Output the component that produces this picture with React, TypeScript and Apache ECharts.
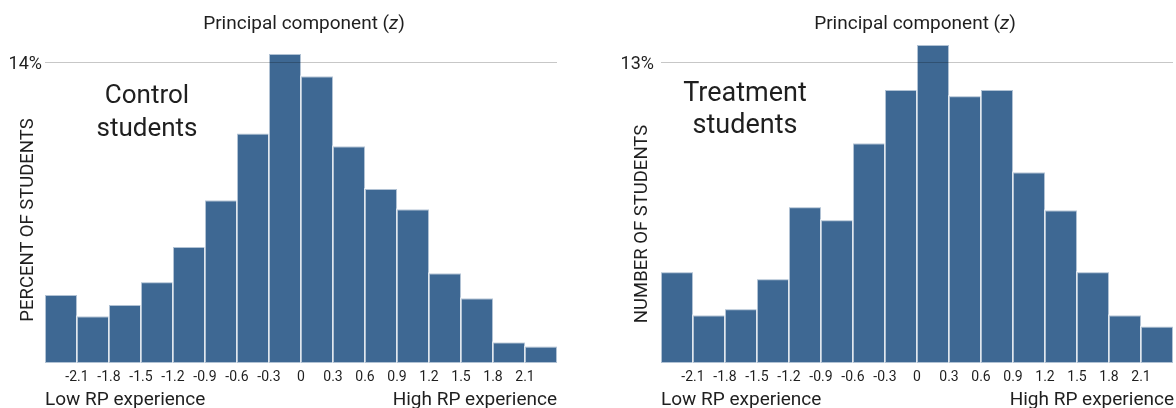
import React, { useEffect, useRef } from "react";
import * as echarts from "echarts";

// Histogram bin edges (principal component z)
const binEdges = [-2.4, -2.1, -1.8, -1.5, -1.2, -0.9, -0.6, -0.3, 0, 0.3, 0.6, 0.9, 1.2, 1.5, 1.8, 2.1, 2.4];
// Share of students per bin (%)
const controlPct = [3.17, 2.17, 2.7, 3.76, 5.4, 7.57, 10.68, 14.39, 13.35, 10.09, 8.1, 7.15, 4.17, 3.01, 0.95, 0.76];
const treatmentPct = [3.92, 2.05, 2.32, 3.62, 6.73, 6.17, 9.48, 11.8, 13.74, 11.53, 11.8, 8.23, 6.59, 3.92, 2.05, 1.57];
// x tick labels
const tickLabels = ["-2.1", "-1.8", "-1.5", "-1.2", "-0.9", "-0.6", "-0.3", "0", "0.3", "0.6", "0.9", "1.2", "1.5", "1.8", "2.1"];
// y reference lines
const controlRef = 14;
const treatmentRef = 13;

const FONT = "Roboto";
const TEXT = "#1f1f1f";
const BAR = "#3e6893";

function binData(values: number[]) {
  return values.map((v, i) => [binEdges[i], binEdges[i + 1], v]);
}

function renderBin(params: any, api: any) {
  const x0 = api.value(0);
  const x1 = api.value(1);
  const y = api.value(2);
  const p0 = api.coord([x0, y]);
  const p1 = api.coord([x1, 0]);
  return {
    type: "rect",
    shape: { x: p0[0], y: p0[1], width: p1[0] - p0[0], height: p1[1] - p0[1] },
    style: { fill: BAR, stroke: "rgba(255,255,255,0.6)", lineWidth: 2 },
  };
}

function tickFormatter(v: number) {
  const hit = tickLabels.find((t) => Math.abs(Number(t) - v) < 1e-6);
  return hit ?? "";
}

export default function App() {
  const ref = useRef<HTMLDivElement>(null);

  useEffect(() => {
    if (!ref.current) return;
    const chart = echarts.init(ref.current, undefined, { renderer: "svg" });

    const xAxisBase = {
      type: "value",
      min: binEdges[0],
      max: binEdges[binEdges.length - 1],
      interval: 0.3,
      axisLine: { show: false },
      axisTick: { show: false },
      splitLine: { show: false },
      axisLabel: {
        showMinLabel: false,
        showMaxLabel: false,
        formatter: tickFormatter,
        fontFamily: FONT,
        fontSize: 14,
        color: TEXT,
        margin: 6,
      },
    };

    const refLine = (val: number) => ({
      silent: true,
      symbol: "none",
      label: { show: false },
      lineStyle: { color: "rgba(0,0,0,0.22)", type: "solid", width: 1 },
      data: [{ yAxis: val }],
      z: 10,
    });

    const titleText = (x: number) => ({
      type: "text",
      x,
      y: 22,
      style: {
        text: "{a|Principal component (}{i|z}{a|)}",
        align: "center",
        verticalAlign: "middle",
        rich: {
          a: { fontFamily: FONT, fontSize: 19, fill: TEXT, color: TEXT },
          i: { fontFamily: FONT, fontSize: 19, fontStyle: "italic", fill: TEXT, color: TEXT },
        },
      },
    });

    const plain = (text: string, x: number, y: number, size: number, align: string, extra: any = {}) => ({
      type: "text",
      x,
      y,
      ...extra,
      style: {
        text,
        fontFamily: FONT,
        fontSize: size,
        fill: TEXT,
        align,
        verticalAlign: "middle",
      },
    });

    chart.setOption({
      animation: false,
      grid: [
        { left: 45, top: 41, width: 512, height: 322 },
        { left: 661, top: 39, width: 512, height: 324 },
      ],
      xAxis: [
        { ...xAxisBase, gridIndex: 0 },
        { ...xAxisBase, gridIndex: 1 },
      ],
      yAxis: [
        {
          type: "value",
          gridIndex: 0,
          min: 0,
          max: 15,
          interval: controlRef,
          axisLine: { show: false },
          axisTick: { show: false },
          splitLine: { show: false },
          axisLabel: {
            formatter: (v: number) => (v === controlRef ? controlRef + "%" : ""),
            fontFamily: FONT,
            fontSize: 18,
            color: TEXT,
            margin: 3,
          },
        },
        {
          type: "value",
          gridIndex: 1,
          min: 0,
          max: 14,
          interval: treatmentRef,
          axisLine: { show: false },
          axisTick: { show: false },
          splitLine: { show: false },
          axisLabel: {
            formatter: (v: number) => (v === treatmentRef ? treatmentRef + "%" : ""),
            fontFamily: FONT,
            fontSize: 18,
            color: TEXT,
            margin: 7,
          },
        },
      ],
      series: [
        {
          type: "custom",
          xAxisIndex: 0,
          yAxisIndex: 0,
          renderItem: renderBin,
          encode: { x: [0, 1], y: 2 },
          data: binData(controlPct),
          markLine: refLine(controlRef),
        },
        {
          type: "custom",
          xAxisIndex: 1,
          yAxisIndex: 1,
          renderItem: renderBin,
          encode: { x: [0, 1], y: 2 },
          data: binData(treatmentPct),
          markLine: refLine(treatmentRef),
        },
      ],
      graphic: [
        titleText(304),
        titleText(915),
        {
          type: "text",
          x: 147,
          y: 110,
          style: {
            text: "Control\nstudents",
            fontFamily: FONT,
            fontSize: 26,
            lineHeight: 33,
            fill: TEXT,
            align: "center",
            verticalAlign: "middle",
          },
        },
        {
          type: "text",
          x: 745,
          y: 108,
          style: {
            text: "Treatment\nstudents",
            fontFamily: FONT,
            fontSize: 27,
            lineHeight: 32,
            fill: TEXT,
            align: "center",
            verticalAlign: "middle",
          },
        },
        plain("PERCENT OF STUDENTS", 27, 220, 18.5, "center", { rotation: Math.PI / 2 }),
        plain("NUMBER OF STUDENTS", 641, 224, 18.5, "center", { rotation: Math.PI / 2 }),
        plain("Low RP experience", 45, 398, 19, "left"),
        plain("High RP experience", 557, 398, 19, "right"),
        plain("Low RP experience", 661, 398, 19, "left"),
        plain("High RP experience", 1174, 398, 19, "right"),
      ],
    });

    return () => chart.dispose();
  }, []);

  return (
    <div
      ref={ref}
      style={{ position: "fixed", left: 0, top: 0, width: 1176, height: 408 }}
    />
  );
}
